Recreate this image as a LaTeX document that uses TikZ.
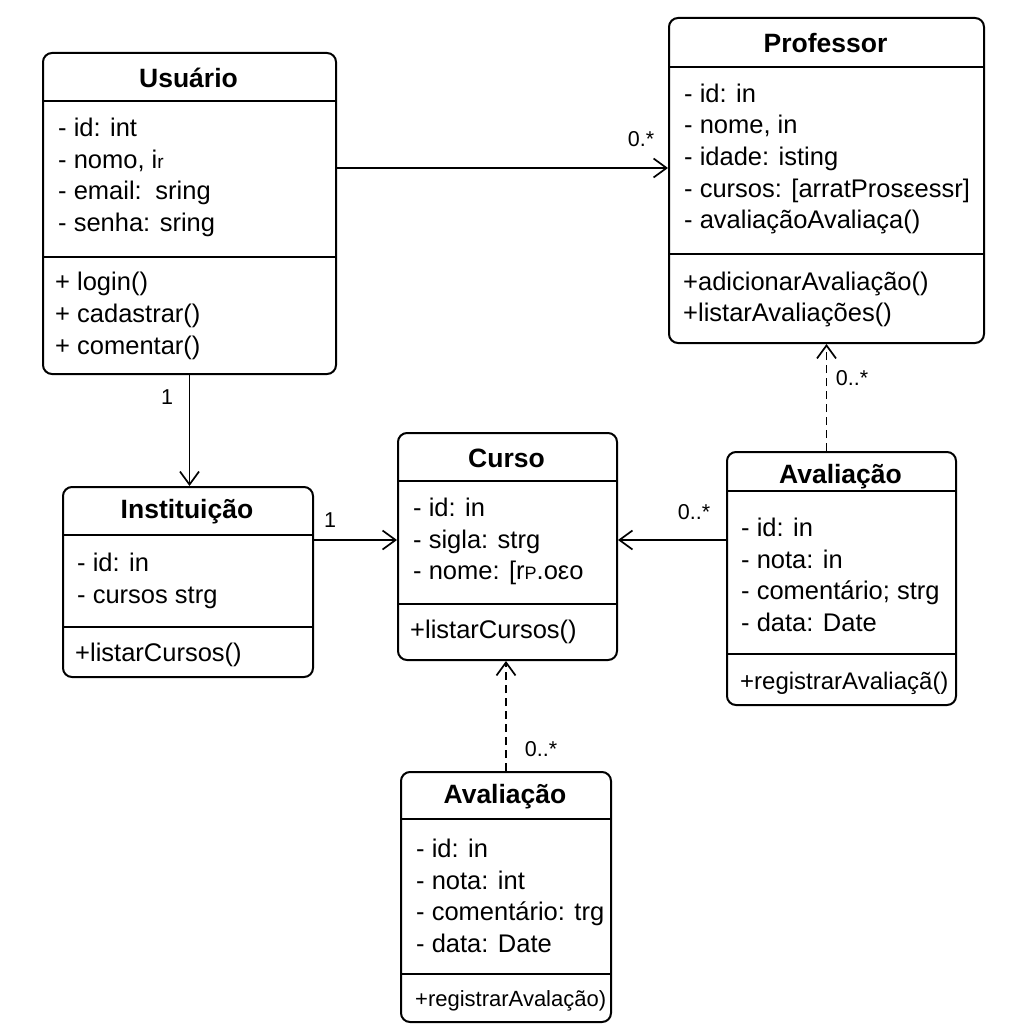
\documentclass[tikz,border=0pt]{standalone}
\usepackage{fontspec}
\setmainfont{Liberation Sans}
\usetikzlibrary{arrows.meta}

\tikzset{
  classbox/.style={draw, line width=2pt, rounded corners=9pt, inner sep=0pt, anchor=north west},
  sep/.style={line width=1.6pt},
  title/.style={inner sep=0pt, font=\bfseries\fontsize{26.5}{31}\selectfont},
  members/.style={anchor=west, align=left, inner sep=0pt, font=\fontsize{25.5}{31.7}\selectfont},
  mult/.style={inner sep=0pt, font=\fontsize{21.5}{25}\selectfont},
  assoc/.style={line width=1.7pt, -{Straight Barb[length=13pt,width=19pt,line width=1.7pt]}},
  dep/.style={assoc, dash pattern=on 8pt off 5pt}
}

\begin{document}
\begin{tikzpicture}[x=1pt,y=-1pt]
  \useasboundingbox (0,0) rectangle (1024,1024);

  % class boxes
  \node[classbox, minimum width=293pt, minimum height=321pt] (usuario) at (42,52) {};
  \node[classbox, minimum width=315pt, minimum height=325pt] (professor) at (668,17) {};
  \node[classbox, minimum width=219pt, minimum height=227pt] (curso) at (397,432) {};
  \node[classbox, minimum width=250pt, minimum height=190pt] (instituicao) at (62,486) {};
  \node[classbox, minimum width=229pt, minimum height=253pt] (aval1) at (726,451) {};
  \node[classbox, minimum width=210pt, minimum height=250pt] (aval2) at (400,771) {};

  % compartments
  \draw[sep] (usuario.west |- 0,101) -- (usuario.east |- 0,101);
  \draw[sep] (usuario.west |- 0,257) -- (usuario.east |- 0,257);
  \draw[sep] (professor.west |- 0,67) -- (professor.east |- 0,67);
  \draw[sep] (professor.west |- 0,254) -- (professor.east |- 0,254);
  \draw[sep] (curso.west |- 0,481) -- (curso.east |- 0,481);
  \draw[sep] (curso.west |- 0,604) -- (curso.east |- 0,604);
  \draw[sep] (instituicao.west |- 0,535) -- (instituicao.east |- 0,535);
  \draw[sep] (instituicao.west |- 0,627) -- (instituicao.east |- 0,627);
  \draw[sep] (aval1.west |- 0,491) -- (aval1.east |- 0,491);
  \draw[sep] (aval1.west |- 0,654) -- (aval1.east |- 0,654);
  \draw[sep] (aval2.west |- 0,819) -- (aval2.east |- 0,819);
  \draw[sep] (aval2.west |- 0,974) -- (aval2.east |- 0,974);

  % Usuario
  \node[title] (usuario-name) at (188.5,78) {Usuário};
  \node[members] (usuario-attr) at (58,177.5) {- id: int\\- nomo, i{\fontsize{19}{19}\selectfont r}\\- email:\, sring\\- senha: sring};
  \node[members] (usuario-ops) at (55,316) {+ login()\\+ cadastrar()\\+ comentar()};

  % Professor
  \node[title] (professor-name) at (825.5,43) {Professor};
  \node[members] (professor-attr) at (684,159) {- id: in\\- nome, in\\- idade: isting\\- cursos: [arratProsεessr]\\- avaliaçãoAvaliaça()};
  \node[members] (professor-ops) at (683,299.5) {+adicionarAvaliação()\\+listarAvaliações()};

  % Curso
  \node[title] (curso-name) at (506.5,458) {Curso};
  \node[members] (curso-attr) at (413,541.5) {- id: in\\- sigla: strg\\- nome: [r{\fontsize{18}{18}\selectfont P}.oεo};
  \node[members] (curso-ops) at (410,632) {+listarCursos()};

  % Instituicao
  \node[title] (instituicao-name) at (187,512) {Instituição};
  \node[members] (instituicao-attr) at (77,581) {- id: in\\- cursos strg};
  \node[members] (instituicao-ops) at (75,655) {+listarCursos()};

  % Avaliacao (right)
  \node[title] (aval1-name) at (840.5,477) {Avaliação};
  \node[members] (aval1-attr) at (741,575) {- id: in\\- nota: in\\- comentário; strg\\- data: Date};
  \node[members, font=\fontsize{24}{30}\selectfont] (aval1-ops) at (740,683) {+registrarAvaliaçã()};

  % Avaliacao (bottom)
  \node[title] (aval2-name) at (505,797) {Avaliação};
  \node[members] (aval2-attr) at (416,896) {- id: in\\- nota: int\\- comentário: trg\\- data: Date};
  \node[members, font=\fontsize{22}{28}\selectfont] (aval2-ops) at (415,1001) {+registrarAvalação)};

  % associations
  \draw[assoc] ([yshift=45.5pt]usuario.east) -- ([yshift=45.5pt]usuario.east -| professor.west);
  \draw[assoc] (usuario.south) -- (usuario.south |- instituicao.north);
  \draw[assoc] ([yshift=6.5pt]curso.west -| instituicao.east) -- ([yshift=6.5pt]curso.west);
  \draw[assoc] ([yshift=6.5pt]curso.east -| aval1.west) -- ([yshift=6.5pt]curso.east);
  \draw[dep] (aval1.north -| professor.south) -- (professor.south);
  \draw[dep] (aval2.north) -- (aval2.north |- curso.south);

  % multiplicities
  \node[mult] (m-prof) at (641,139) {0.*};
  \node[mult] (m-inst) at (167,397) {1};
  \node[mult] (m-curso) at (330,520) {1};
  \node[mult] (m-aval1) at (694,512) {0..*};
  \node[mult] (m-aval1p) at (852,378) {0..*};
  \node[mult] (m-aval2) at (541,749) {0..*};
\end{tikzpicture}
\end{document}
